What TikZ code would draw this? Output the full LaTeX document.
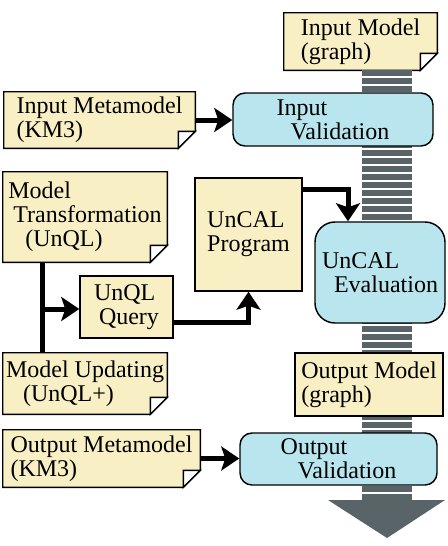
\documentclass[tikz,border=0pt]{standalone}
\usepackage{fontspec}
\setmainfont{Liberation Serif}
\usetikzlibrary{arrows.meta,backgrounds}
\definecolor{notefill}{RGB}{248,240,196}
\definecolor{procfill}{RGB}{185,230,238}
\definecolor{bandgray}{RGB}{88,100,104}
\tikzset{
	note/.style={rectangle, align=left, inner sep=0pt},
	docbox/.style={rectangle, draw, line width=1.1pt, fill=notefill, align=left, inner sep=0pt},
	procbox/.style={rectangle, rounded corners=9pt, draw, line width=1.1pt, fill=procfill, align=left, inner sep=0pt},
	flow/.style={line width=3.75pt, -{Stealth[length=13.5pt,width=18pt,inset=3pt]}},
	notebody/.style={draw, line width=1.1pt, fill=notefill},
	fold/.style={draw, line width=1.1pt, fill=white},
}
% folded-corner outline behind a note node
\newcommand{\notebox}[1]{
	\draw[notebody] (#1.north west) -- (#1.north east) -- ([yshift=12.75pt]#1.south east) -- ([xshift=-12.75pt]#1.south east) -- (#1.south west) -- cycle;
	\draw[fold] ([xshift=-12.75pt]#1.south east) -- ([xshift=-12.75pt,yshift=12.75pt]#1.south east) -- ([yshift=12.75pt]#1.south east) -- cycle;
}
\begin{document}
\begin{tikzpicture}[x=0.75pt,y=-0.75pt,font=\fontsize{18}{18}\selectfont]
	\useasboundingbox (0,0) rectangle (448,546);
	
	% striped data band
	\foreach \y in {70,78,...,494}
		\fill[bandgray] (362,\y) rectangle (412,\y+6);
	\fill[bandgray] (328,500) -- (445,500) -- (387,538) -- cycle;
	
	\node[note, minimum width=114.75pt, minimum height=42.75pt] (inmodel) at (360.5,41.5) {Input Model\\(graph)};
	\node[note, minimum width=143.25pt, minimum height=42pt] (inmeta) at (99.5,120) {Input Metamodel\\(KM3)};
	\node[procbox, minimum width=150pt, minimum height=39.75pt] (inval) at (333,119.5) {Input\\\hspace*{10.5pt}Validation};
	\node[note, minimum width=123pt, minimum height=67.5pt] (trans) at (85,217) {Model\\\hspace*{3.75pt}Transformation\\\hspace*{12.75pt}(UnQL)};
	\node[docbox, minimum width=80.25pt, minimum height=84.75pt] (prog) at (248.5,234.5) {UnCAL\\Program};
	\node[procbox, rounded corners=15pt, minimum width=97.5pt, minimum height=75.75pt] (eval) at (380,272.5) {UnCAL\\\hspace*{9pt}Evaluation};
	\node[docbox, minimum width=69.75pt, minimum height=46.5pt] (query) at (126.5,307) {UnQL\\\hspace*{3.75pt}Query};
	\node[note, minimum width=123pt, minimum height=45.75pt] (upd) at (85,383.5) {Model Updating\\\hspace*{12.75pt}(UnQL+)};
	\node[docbox, minimum width=111pt, minimum height=47.25pt] (outmodel) at (369,384.5) {Output Model\\(graph)};
	\node[note, minimum width=147.75pt, minimum height=42.75pt] (outmeta) at (101.5,458.5) {Output Metamodel\\(KM3)};
	\node[procbox, minimum width=147.75pt, minimum height=39pt] (outval) at (338.5,459) {Output\\\hspace*{12.75pt}Validation};
	
	\begin{scope}[on background layer]
		\foreach \n in {inmodel,inmeta,trans,upd,outmeta}{
			\notebox{\n}
		}
	\end{scope}
	
	\draw[flow] (inmeta.east) -- (inmeta.east -| inval.west);
	\draw[flow] (outmeta.east) -- (outmeta.east -| outval.west);
	\coordinate (split) at (42,309);
	\draw[line width=3.75pt] (trans.south -| split) -- (upd.north -| split);
	\draw[flow] (split) -- (split -| query.west);
	\draw[flow] ([yshift=-11.25pt]query.east) -| (prog.south);
	\draw[flow] ([yshift=33.4pt]prog.east) -| ([xshift=-24pt]eval.north);
\end{tikzpicture}
\end{document}
